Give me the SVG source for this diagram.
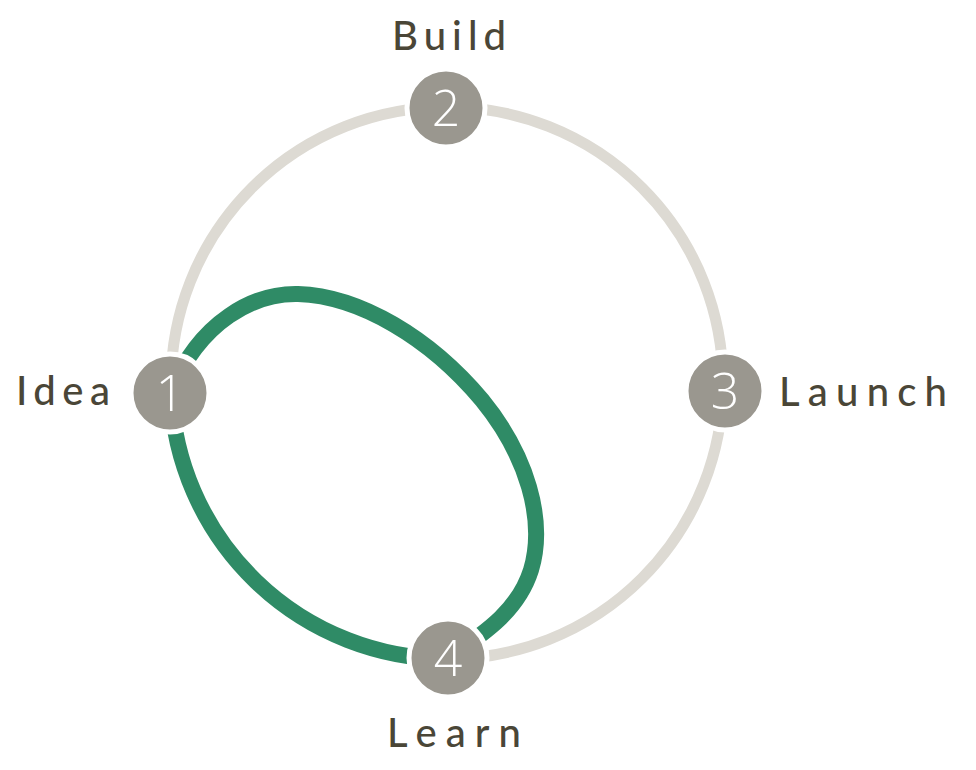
<svg xmlns="http://www.w3.org/2000/svg" width="976" height="770" viewBox="0 0 976 770">
<style>
.ring{fill:none;stroke:#dddad3;stroke-width:11}
.loop{fill:none;stroke:#2f8b66;stroke-width:16;stroke-linecap:butt}
.node{fill:#9a978f;stroke:#ffffff;stroke-width:5}
.num{fill:#ffffff;font-family:"Open Sans","Lato",sans-serif;font-weight:300;font-size:50px;text-anchor:middle}
.lbl{fill:#4a4637;font-family:"Lato","Open Sans",sans-serif;font-weight:500;font-size:40px}
</style>
<rect width="976" height="770" fill="#ffffff"/>
<g id="connectors">
<circle class="ring" cx="447" cy="383" r="276"/>
<path class="loop" d="M 447,659 A 278 278 0 0 1 171,393"/>
<path class="loop" d="M 170,393 C 200,320 255,293 298,294 C 360,296 430,338 482,400 C 527,455 546,520 531,570 C 519,608 490,630 448,658"/>
</g>
<g id="node1"><circle class="node" cx="170" cy="393" r="39"/><text class="num" x="170" y="411">1</text><text class="lbl" x="16" y="405" textLength="94" lengthAdjust="spacing">Idea</text></g>
<g id="node2"><circle class="node" cx="446" cy="108" r="39"/><text class="num" x="446" y="126">2</text><text class="lbl" x="392" y="50" textLength="114" lengthAdjust="spacing">Build</text></g>
<g id="node3"><circle class="node" cx="725" cy="391" r="39"/><text class="num" x="725" y="409">3</text><text class="lbl" x="779" y="406" textLength="168" lengthAdjust="spacing">Launch</text></g>
<g id="node4"><circle class="node" cx="448" cy="658" r="39"/><text class="num" x="448" y="676">4</text><text class="lbl" x="387" y="747" textLength="134" lengthAdjust="spacing">Learn</text></g>
</svg>
